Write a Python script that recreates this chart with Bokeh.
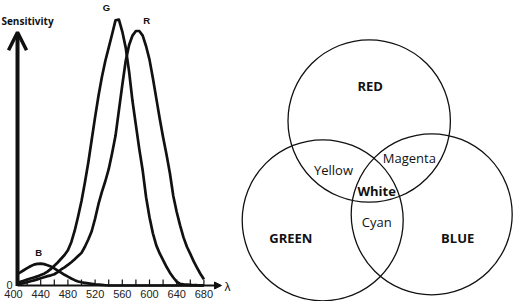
from bokeh.plotting import figure
from bokeh.layouts import row
from bokeh.models import Range1d, Arrow, OpenHead, NormalHead, Label, ColumnDataSource
from bokeh.core.properties import value
from bokeh.embed import file_html
from bokeh.resources import INLINE

# ---------------- data ----------------
wavelength = [405, 410, 415, 420, 425, 430, 435, 440, 445, 450,
              455, 460, 465, 470, 475, 480, 485, 490, 495, 500,
              505, 510, 515, 520, 525, 530, 535, 540, 545, 550,
              555, 560, 565, 570, 575, 580, 585, 590, 595, 600,
              605, 610, 615, 620, 625, 630, 635, 640, 645, 650,
              655, 660, 665, 670, 675, 680]

green_sens = [0.012, 0.014, 0.018, 0.022, 0.026, 0.030, 0.034, 0.039, 0.044, 0.052,
              0.062, 0.074, 0.086, 0.100, 0.114, 0.132, 0.162, 0.205, 0.258, 0.316,
              0.385, 0.460, 0.545, 0.630, 0.710, 0.780, 0.840, 0.890, 0.940, 0.992,
              0.995, 0.950, 0.890, 0.800, 0.690, 0.600, 0.510, 0.430, 0.330, 0.255,
              0.195, 0.150, 0.120, 0.095, 0.070, 0.048, 0.030, 0.014, 0.006, 0.004,
              0.003, 0.002, 0.001, 0.001, 0.000, 0.000]

red_sens = [0.004, 0.006, 0.009, 0.012, 0.016, 0.019, 0.023, 0.027, 0.031, 0.035,
            0.038, 0.042, 0.050, 0.060, 0.068, 0.077, 0.087, 0.098, 0.110, 0.122,
            0.145, 0.172, 0.203, 0.250, 0.305, 0.350, 0.390, 0.435, 0.495, 0.560,
            0.655, 0.750, 0.840, 0.900, 0.935, 0.952, 0.952, 0.935, 0.895, 0.845,
            0.775, 0.700, 0.625, 0.555, 0.490, 0.420, 0.335, 0.275, 0.225, 0.180,
            0.145, 0.118, 0.090, 0.066, 0.043, 0.023]

blue_sens = [0.042, 0.049, 0.057, 0.065, 0.072, 0.078, 0.081, 0.082, 0.080, 0.076,
             0.071, 0.064, 0.056, 0.048, 0.040, 0.033, 0.026, 0.020, 0.015, 0.012,
             0.010, 0.008, 0.006, 0.004, 0.003, 0.002, 0.001, 0.000, 0.000, 0.000,
             0.000, 0.000, 0.000, 0.000, 0.000, 0.000, 0.000, 0.000, 0.000, 0.000,
             0.000, 0.000, 0.000, 0.000, 0.000, 0.000, 0.000, 0.000, 0.000, 0.000,
             0.000, 0.000, 0.000, 0.000, 0.000, 0.000]

curve_names = ["G", "R", "B"]

x_tick_values = [400, 440, 480, 520, 560, 600, 640, 680]
x_tick_labels = ["400", "440", "480", "520", "560", "600", "640", "680"]
x_minor_ticks = [420, 440, 460, 480, 500, 520, 540, 560, 580, 600, 620, 640, 660, 680]
y_tick_labels = ["0"]

venn_sets = ["RED", "GREEN", "BLUE"]
venn_mixes = ["Yellow", "Magenta", "Cyan"]
venn_centre = ["White"]

INK = "#111111"

# ---------------- left: sensitivity curves ----------------
left = figure(width=238, height=301,
              x_range=Range1d(380.88, 730.88), y_range=Range1d(-0.0599, 1.0662),
              x_axis_location=None, y_axis_location=None,
              output_backend="svg", toolbar_location=None, min_border=0)
left.xgrid.grid_line_color = None
left.ygrid.grid_line_color = None
left.outline_line_color = None
left.background_fill_color = "white"
left.border_fill_color = "white"

for series in (green_sens, red_sens, blue_sens):
    left.line(wavelength, series, line_width=2.7, line_color=INK, line_join="round")

# axis ticks and tick labels (drawn on the wavelength / sensitivity scales)
tick_len = 0.0224
left.segment(x0=x_minor_ticks, y0=[0] * len(x_minor_ticks),
             x1=x_minor_ticks, y1=[tick_len] * len(x_minor_ticks),
             line_color=INK, line_width=1.2)
left.text(x=x_tick_values, y=[-0.0337] * len(x_tick_values), text=x_tick_labels,
          text_font=value("Liberation Sans"), text_font_size=value("11px"),
          text_align="center", text_baseline="middle", text_color="#222222")
left.text(x=[394.1], y=[0.0], text=y_tick_labels,
          text_font=value("Liberation Sans"), text_font_size=value("11px"),
          text_align="center", text_baseline="middle", text_color="#222222")

# axes arrows
left.add_layout(Arrow(end=OpenHead(size=18, line_width=3.5, line_color=INK),
                      x_start=405.9, y_start=-0.002, x_end=405.9, y_end=0.9476,
                      line_width=4, line_color=INK))
left.add_layout(Arrow(end=NormalHead(size=7, fill_color=INK, line_color=INK, line_width=1),
                      x_start=405.9, y_start=0, x_end=705.9, y_end=0,
                      line_width=2, line_color=INK))

left.add_layout(Label(x=714.6, y=-0.004, text="λ", text_align="center", text_baseline="middle",
                      text_font="Liberation Sans", text_font_size="12px", text_color=INK))
left.add_layout(Label(x=420.6, y=0.991, text="Sensitivity", text_align="center",
                      text_baseline="middle", text_font="Open Sans", text_font_style="bold",
                      text_font_size="10px", text_color=INK))

curve_label_src = ColumnDataSource(dict(name=curve_names,
                                        x=[536.8, 595.9, 437.2],
                                        y=[1.040, 0.990, 0.1216]))
left.text(x="x", y="y", text="name", source=curve_label_src,
          text_font=value("Liberation Sans"), text_font_style="bold",
          text_font_size=value("9.5px"), text_align="center", text_baseline="middle",
          text_color=INK)

# ---------------- right: additive colour Venn ----------------
right = figure(width=275, height=301, x_range=Range1d(0, 275), y_range=Range1d(0, 301),
               x_axis_location=None, y_axis_location=None,
               output_backend="svg", toolbar_location=None, min_border=0)
right.xgrid.grid_line_color = None
right.ygrid.grid_line_color = None
right.outline_line_color = None

circle_src = ColumnDataSource(dict(name=venn_sets,
                                   x=[130.7, 84.2, 193.2],
                                   y=[180.5, 81.2, 87.2],
                                   r=[81.2, 80.5, 80.5]))
right.circle(x="x", y="y", radius="r", source=circle_src,
             fill_color=None, line_color=INK, line_width=1.3)

set_label_src = ColumnDataSource(dict(name=venn_sets + venn_centre,
                                      x=[131.7, 52.3, 219.2, 138.2],
                                      y=[215.7, 64.0, 64.0, 110.2]))
right.text(x="x", y="y", text="name", source=set_label_src,
           text_font=value("Open Sans"), text_font_style="bold",
           text_font_size=value("13px"), text_align="center", text_baseline="middle",
           text_color=INK)

mix_label_src = ColumnDataSource(dict(name=venn_mixes,
                                      x=[95.0, 170.8, 138.3],
                                      y=[131.5, 143.8, 79.7]))
right.text(x="x", y="y", text="name", source=mix_label_src,
           text_font=value("Open Sans"),
           text_font_size=value("13px"), text_align="center", text_baseline="middle",
           text_color=INK)

layout = row(left, right, spacing=0)
open("out.html", "w").write(file_html(layout, INLINE))
